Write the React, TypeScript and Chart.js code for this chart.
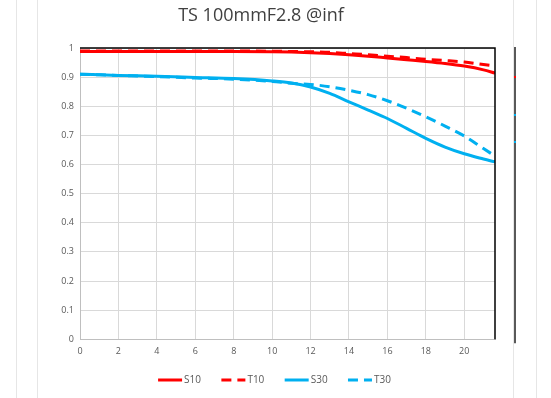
import React, { useEffect, useRef } from "react";
import { Chart, registerables } from "chart.js";

Chart.register(...registerables);

const TITLE = "TS 100mmF2.8 @inf";
const imageHeights = [0, 2, 4, 6, 8, 10, 11, 12, 13, 14, 15, 16, 17, 18, 19, 20, 21, 21.6];
const s10 = [0.988, 0.988, 0.988, 0.988, 0.988, 0.987, 0.986, 0.984, 0.981, 0.977, 0.972, 0.966, 0.96, 0.954, 0.947, 0.938, 0.925, 0.914];
const t10 = [0.99, 0.99, 0.99, 0.99, 0.99, 0.989, 0.988, 0.987, 0.985, 0.981, 0.977, 0.972, 0.967, 0.961, 0.957, 0.952, 0.943, 0.938];
const s30 = [0.91, 0.906, 0.903, 0.899, 0.895, 0.887, 0.88, 0.866, 0.844, 0.815, 0.787, 0.758, 0.724, 0.69, 0.66, 0.637, 0.619, 0.609];
const t30 = [0.91, 0.906, 0.902, 0.897, 0.893, 0.885, 0.879, 0.875, 0.867, 0.855, 0.84, 0.819, 0.793, 0.764, 0.732, 0.698, 0.655, 0.629];
const X_MIN = 0;
const X_MAX = 21.6;
const X_STEP = 2;
const Y_MIN = 0;
const Y_MAX = 1;
const Y_STEP = 0.1;

const RED = "#FF0000";
const BLUE = "#00B0F0";
const FONT = "Open Sans";

const pts = (ys: number[]) => imageHeights.map((x, i) => ({ x, y: ys[i] }));

const decor = {
  id: "decor",
  beforeDraw(chart: any) {
    const { ctx, height } = chart;
    ctx.save();
    ctx.strokeStyle = "#E6E6E6";
    ctx.lineWidth = 1;
    [16.5, 37.5, 513.5, 536.5].forEach((x) => {
      ctx.beginPath();
      ctx.moveTo(x, 0);
      ctx.lineTo(x, height);
      ctx.stroke();
    });
    ctx.restore();
  },
  afterDraw(chart: any) {
    const { ctx, chartArea } = chart;
    const { left, right, top, bottom } = chartArea;
    ctx.save();
    // frame top / right
    ctx.strokeStyle = "#000000";
    ctx.lineWidth = 1.5;
    ctx.beginPath();
    ctx.moveTo(left, top);
    ctx.lineTo(right, top);
    ctx.lineTo(right, bottom);
    ctx.stroke();
    // neighbouring clipped chart edge
    const xr = right + 20;
    ctx.strokeStyle = "#595959";
    ctx.lineWidth = 2;
    ctx.beginPath();
    ctx.moveTo(xr, top - 1);
    ctx.lineTo(xr, bottom + 4);
    ctx.stroke();
    ctx.fillStyle = RED;
    ctx.fillRect(xr - 1, top + 28, 2, 2);
    ctx.fillStyle = BLUE;
    ctx.fillRect(xr - 1, top + 66, 2, 2);
    ctx.fillRect(xr - 1, top + 93, 2, 2);

    // title
    ctx.fillStyle = "#404040";
    ctx.font = `18px "${FONT}"`;
    ctx.textAlign = "center";
    ctx.textBaseline = "alphabetic";
    ctx.fillText(TITLE, 261, 20.5);

    // legend
    ctx.font = `10px "${FONT}"`;
    ctx.textAlign = "left";
    ctx.textBaseline = "middle";
    const ds = chart.data.datasets;
    const pitch = 63.3;
    const lineW = 24;
    const ly = 380;
    const lastW = lineW + 3 + ctx.measureText(ds[ds.length - 1].label).width;
    const total = pitch * (ds.length - 1) + lastW;
    let x = 275 - total / 2;
    ds.forEach((d: any) => {
      ctx.strokeStyle = d.borderColor;
      ctx.lineWidth = 3;
      ctx.setLineDash(d.borderDash || []);
      ctx.beginPath();
      ctx.moveTo(x, ly);
      ctx.lineTo(x + lineW, ly);
      ctx.stroke();
      ctx.setLineDash([]);
      ctx.fillStyle = "#595959";
      ctx.fillText(d.label, x + lineW + 2, ly);
      x += pitch;
    });
    ctx.restore();
  },
};

export default function App() {
  const ref = useRef<HTMLCanvasElement>(null);
  useEffect(() => {
    document.body.style.margin = "0";
    const mk = (label: string, data: number[], color: string, dash: number[]) => ({
      label,
      data: pts(data),
      borderColor: color,
      backgroundColor: color,
      borderWidth: 3,
      borderDash: dash,
      pointRadius: 0,
      cubicInterpolationMode: "monotone" as const,
      fill: false,
    });
    const chart = new Chart(ref.current!, {
      type: "line",
      data: {
        datasets: [
          mk("S10", s10, RED, []),
          mk("T10", t10, RED, [10, 6]),
          mk("S30", s30, BLUE, []),
          mk("T30", t30, BLUE, [10, 6]),
        ],
      },
      options: {
        responsive: false,
        animation: false,
        layout: { padding: { left: 48, right: 56, top: 48, bottom: 38.7 } },
        plugins: {
          title: { display: false },
          legend: { display: false },
          tooltip: { enabled: false },
        },
        scales: {
          x: {
            type: "linear",
            min: X_MIN,
            max: X_MAX,
            ticks: {
              stepSize: X_STEP,
              includeBounds: false,
              color: "#595959",
              font: { family: FONT, size: 9 },
              padding: 7,
              maxRotation: 0,
              autoSkip: false,
            },
            afterFit: (s: any) => {
              s.height = 20;
            },
            grid: { color: "#D9D9D9", lineWidth: 1, drawTicks: false },
            border: { color: "#BFBFBF", width: 1 },
          },
          y: {
            min: Y_MIN,
            max: Y_MAX,
            ticks: {
              stepSize: Y_STEP,
              color: "#595959",
              font: { family: FONT, size: 9 },
              padding: 6,
              callback: (v: any) => String(Math.round(Number(v) * 10) / 10),
            },
            afterFit: (s: any) => {
              s.width = 32;
            },
            grid: { color: "#D9D9D9", lineWidth: 1, drawTicks: false },
            border: { color: "#BFBFBF", width: 1 },
          },
        },
      },
      plugins: [decor],
    });
    return () => chart.destroy();
  }, []);
  return <canvas ref={ref} width={551} height={398} style={{ display: "block" }} />;
}
